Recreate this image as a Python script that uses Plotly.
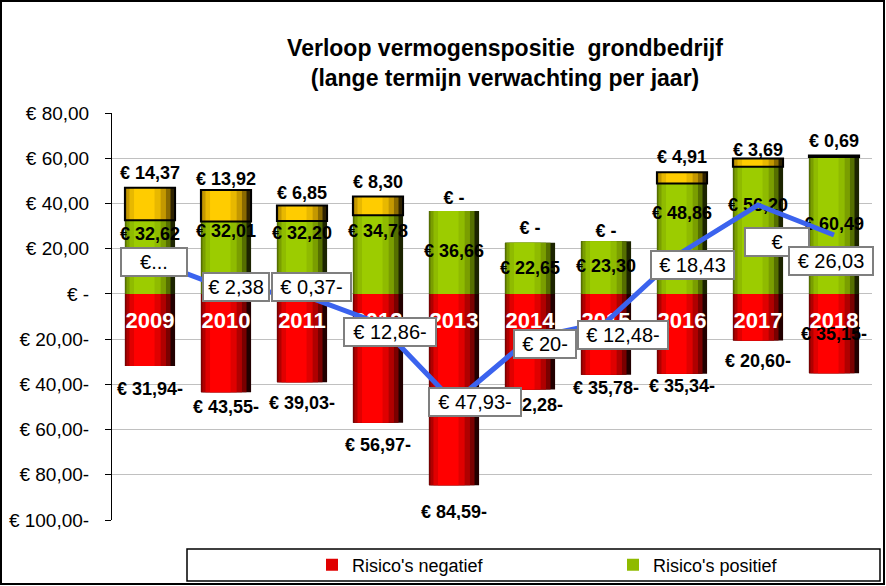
import plotly.graph_objects as go

jaren = ["2009", "2010", "2011", "2012", "2013", "2014", "2015", "2016", "2017", "2018"]
negatief = [-31.94, -43.55, -39.03, -56.97, -84.59, -42.28, -35.78, -35.34, -20.60, -35.15]
positief = [32.62, 32.01, 32.20, 34.78, 36.66, 22.65, 23.30, 48.86, 56.20, 60.49]
extra = [14.37, 13.92, 6.85, 8.30, 0, 0, 0, 4.91, 3.69, 0.69]
saldo = [15.05, 2.38, -0.37, -12.86, -47.93, -19.63, -12.48, 18.43, 39.29, 26.03]
saldo_tekst = ["€...", "€ 2,38", "€ 0,37-", "€ 12,86-", "€ 47,93-", "€ 20-",
               "€ 12,48-", "€ 18,43", "€", "€ 26,03"]
y_ticks = [80, 60, 40, 20, 0, -20, -40, -60, -80, -100]

FONT = "Liberation Sans, Arial, sans-serif"

# plot area in pixels
L, T, W, H = 112, 113, 760, 407
YMIN, YMAX = -100, 80
ppu = H / (YMAX - YMIN)


def px_x(px):
    return (px - L) / W


def px_y(py):
    return (T + H - py) / H


def euro(v):
    if v == 0:
        return "€ -"
    s = f"{abs(v):,.2f}".replace(",", "X").replace(".", ",").replace("X", ".")
    return "€ " + s + ("-" if v < 0 else "")


# label offsets in pixels (styling only)
neg_shift = [24, 16, 22, 24, 28, 17, 15, 14, 22, -38]
pos_shift = [22, 25, 23, 22, 0, -1, 0, 24, 24, 0]
top_shift = [13, 10, 11, 13, 12, 13, 9, 14, 7, 13]
box_shift = [(4, -2), (10, 2), (9, 8), (12, -9), (21, 0), (15, -6), (17, -13), (10, -13), (19, -37), (-3, -26)]
box_width = [68, 68, 81, 94, 94, 64, 92, 85, 66, 86]

# cylinder look: stacked layers (left, right, colour)
rood = [(-0.33, 0.33, "#220000"), (-0.33, 0.27, "#7a0000"), (-0.31, 0.21, "#b00000"),
        (-0.27, 0.14, "#e00000"), (-0.21, 0.06, "#ff0000")]
groen = [(-0.33, 0.33, "#1c2400"), (-0.33, 0.27, "#556f00"), (-0.31, 0.21, "#7a9e00"),
         (-0.27, 0.14, "#8fbb00"), (-0.21, 0.06, "#9ccc00")]
geel = [(-0.33, 0.33, "#2e2200"), (-0.33, 0.27, "#8a6a00"), (-0.31, 0.21, "#c49800"),
        (-0.27, 0.14, "#e8b800"), (-0.21, 0.06, "#ffcc00")]

fig = go.Figure()


def cylinder(y, base, layers, name, legend):
    for i, (left, right, color) in enumerate(layers):
        fig.add_trace(go.Bar(
            x=jaren, y=y, base=base, width=right - left, offset=left,
            marker=dict(color=color, line=dict(width=0)),
            name=name, showlegend=legend and i == 3, hoverinfo="skip"))


geel_y = [v if v else None for v in extra]
cylinder(negatief, [0] * len(jaren), rood, "Risico's negatief", True)
cylinder(positief, [0] * len(jaren), groen, "Risico's positief", True)
cylinder(geel_y, positief, geel, "extra", False)
fig.add_trace(go.Bar(
    x=jaren, y=geel_y, base=positief, width=0.66, offset=-0.33,
    marker=dict(color="rgba(0,0,0,0)", line=dict(color="black", width=2)),
    showlegend=False, hoverinfo="skip"))

label_font = dict(family=FONT, size=18, color="black", weight="bold")
fig.add_trace(go.Scatter(
    x=jaren, y=[v - s / ppu for v, s in zip(negatief, neg_shift)],
    mode="text", text=[euro(v) for v in negatief], textfont=label_font,
    showlegend=False, hoverinfo="skip"))
fig.add_trace(go.Scatter(
    x=jaren, y=[v / 2 + s / ppu for v, s in zip(positief, pos_shift)],
    mode="text", text=[euro(v) for v in positief], textfont=label_font,
    showlegend=False, hoverinfo="skip"))
fig.add_trace(go.Scatter(
    x=jaren, y=[p + e + s / ppu for p, e, s in zip(positief, extra, top_shift)],
    mode="text", text=[euro(v) for v in extra], textfont=label_font,
    showlegend=False, hoverinfo="skip"))
fig.add_trace(go.Scatter(
    x=jaren, y=[-29 / ppu] * len(jaren), mode="text", text=jaren,
    textfont=dict(family=FONT, size=22, color="white", weight="bold"),
    showlegend=False, hoverinfo="skip"))

fig.add_trace(go.Scatter(
    x=jaren, y=saldo, mode="lines", line=dict(color="#3b63ee", width=5),
    showlegend=False, hoverinfo="skip"))

# category axis: annotations are placed by category index
for i in range(len(jaren)):
    fig.add_annotation(
        x=i, y=saldo[i], text=saldo_tekst[i], showarrow=False,
        xshift=box_shift[i][0], yshift=box_shift[i][1],
        width=box_width[i] - 8, height=22, borderpad=2,
        bgcolor="white", bordercolor="#7f7f7f", borderwidth=2,
        font=dict(family=FONT, size=20, color="black"))

fig.update_layout(
    width=886, height=586,
    margin=dict(l=L, r=886 - L - W, t=T, b=586 - T - H, autoexpand=False),
    paper_bgcolor="white", plot_bgcolor="white",
    barmode="overlay",
    title=dict(text="Verloop vermogenspositie  grondbedrijf<br>(lange termijn verwachting per jaar)",
               x=505 / 886, xref="container", xanchor="center",
               y=1 - 56 / 586, yref="container", yanchor="middle",
               font=dict(family=FONT, size=23, color="black", weight="bold")),
    xaxis=dict(type="category", range=[-0.5, 9.5], showticklabels=False,
               showgrid=False, zeroline=False, showline=False),
    yaxis=dict(range=[YMIN, YMAX], tickvals=y_ticks, ticktext=[euro(v) for v in y_ticks],
               showgrid=True, gridcolor="#c0c0c0", gridwidth=1, zeroline=False,
               showline=True, linecolor="black", linewidth=1,
               ticks="outside", ticklen=6, tickcolor="black", ticklabelstandoff=12,
               tickfont=dict(family=FONT, size=19, color="black")),
    legend=dict(orientation="h", x=px_x(312), xanchor="left", y=px_y(565), yanchor="middle",
                font=dict(family=FONT, size=18, color="black"),
                entrywidth=256, entrywidthmode="pixels",
                bgcolor="rgba(0,0,0,0)", borderwidth=0),
    shapes=[
        dict(type="rect", xref="paper", yref="paper",
             x0=px_x(187), x1=px_x(880), y0=px_y(581), y1=px_y(549),
             line=dict(color="black", width=1.5), fillcolor="rgba(0,0,0,0)"),
        dict(type="rect", xref="paper", yref="paper",
             x0=px_x(1), x1=px_x(884), y0=px_y(584), y1=px_y(1),
             line=dict(color="black", width=2), fillcolor="rgba(0,0,0,0)"),
    ],
)

fig.write_html("out.html", config={"displayModeBar": False},
               post_script="document.body.style.margin = '0';")
